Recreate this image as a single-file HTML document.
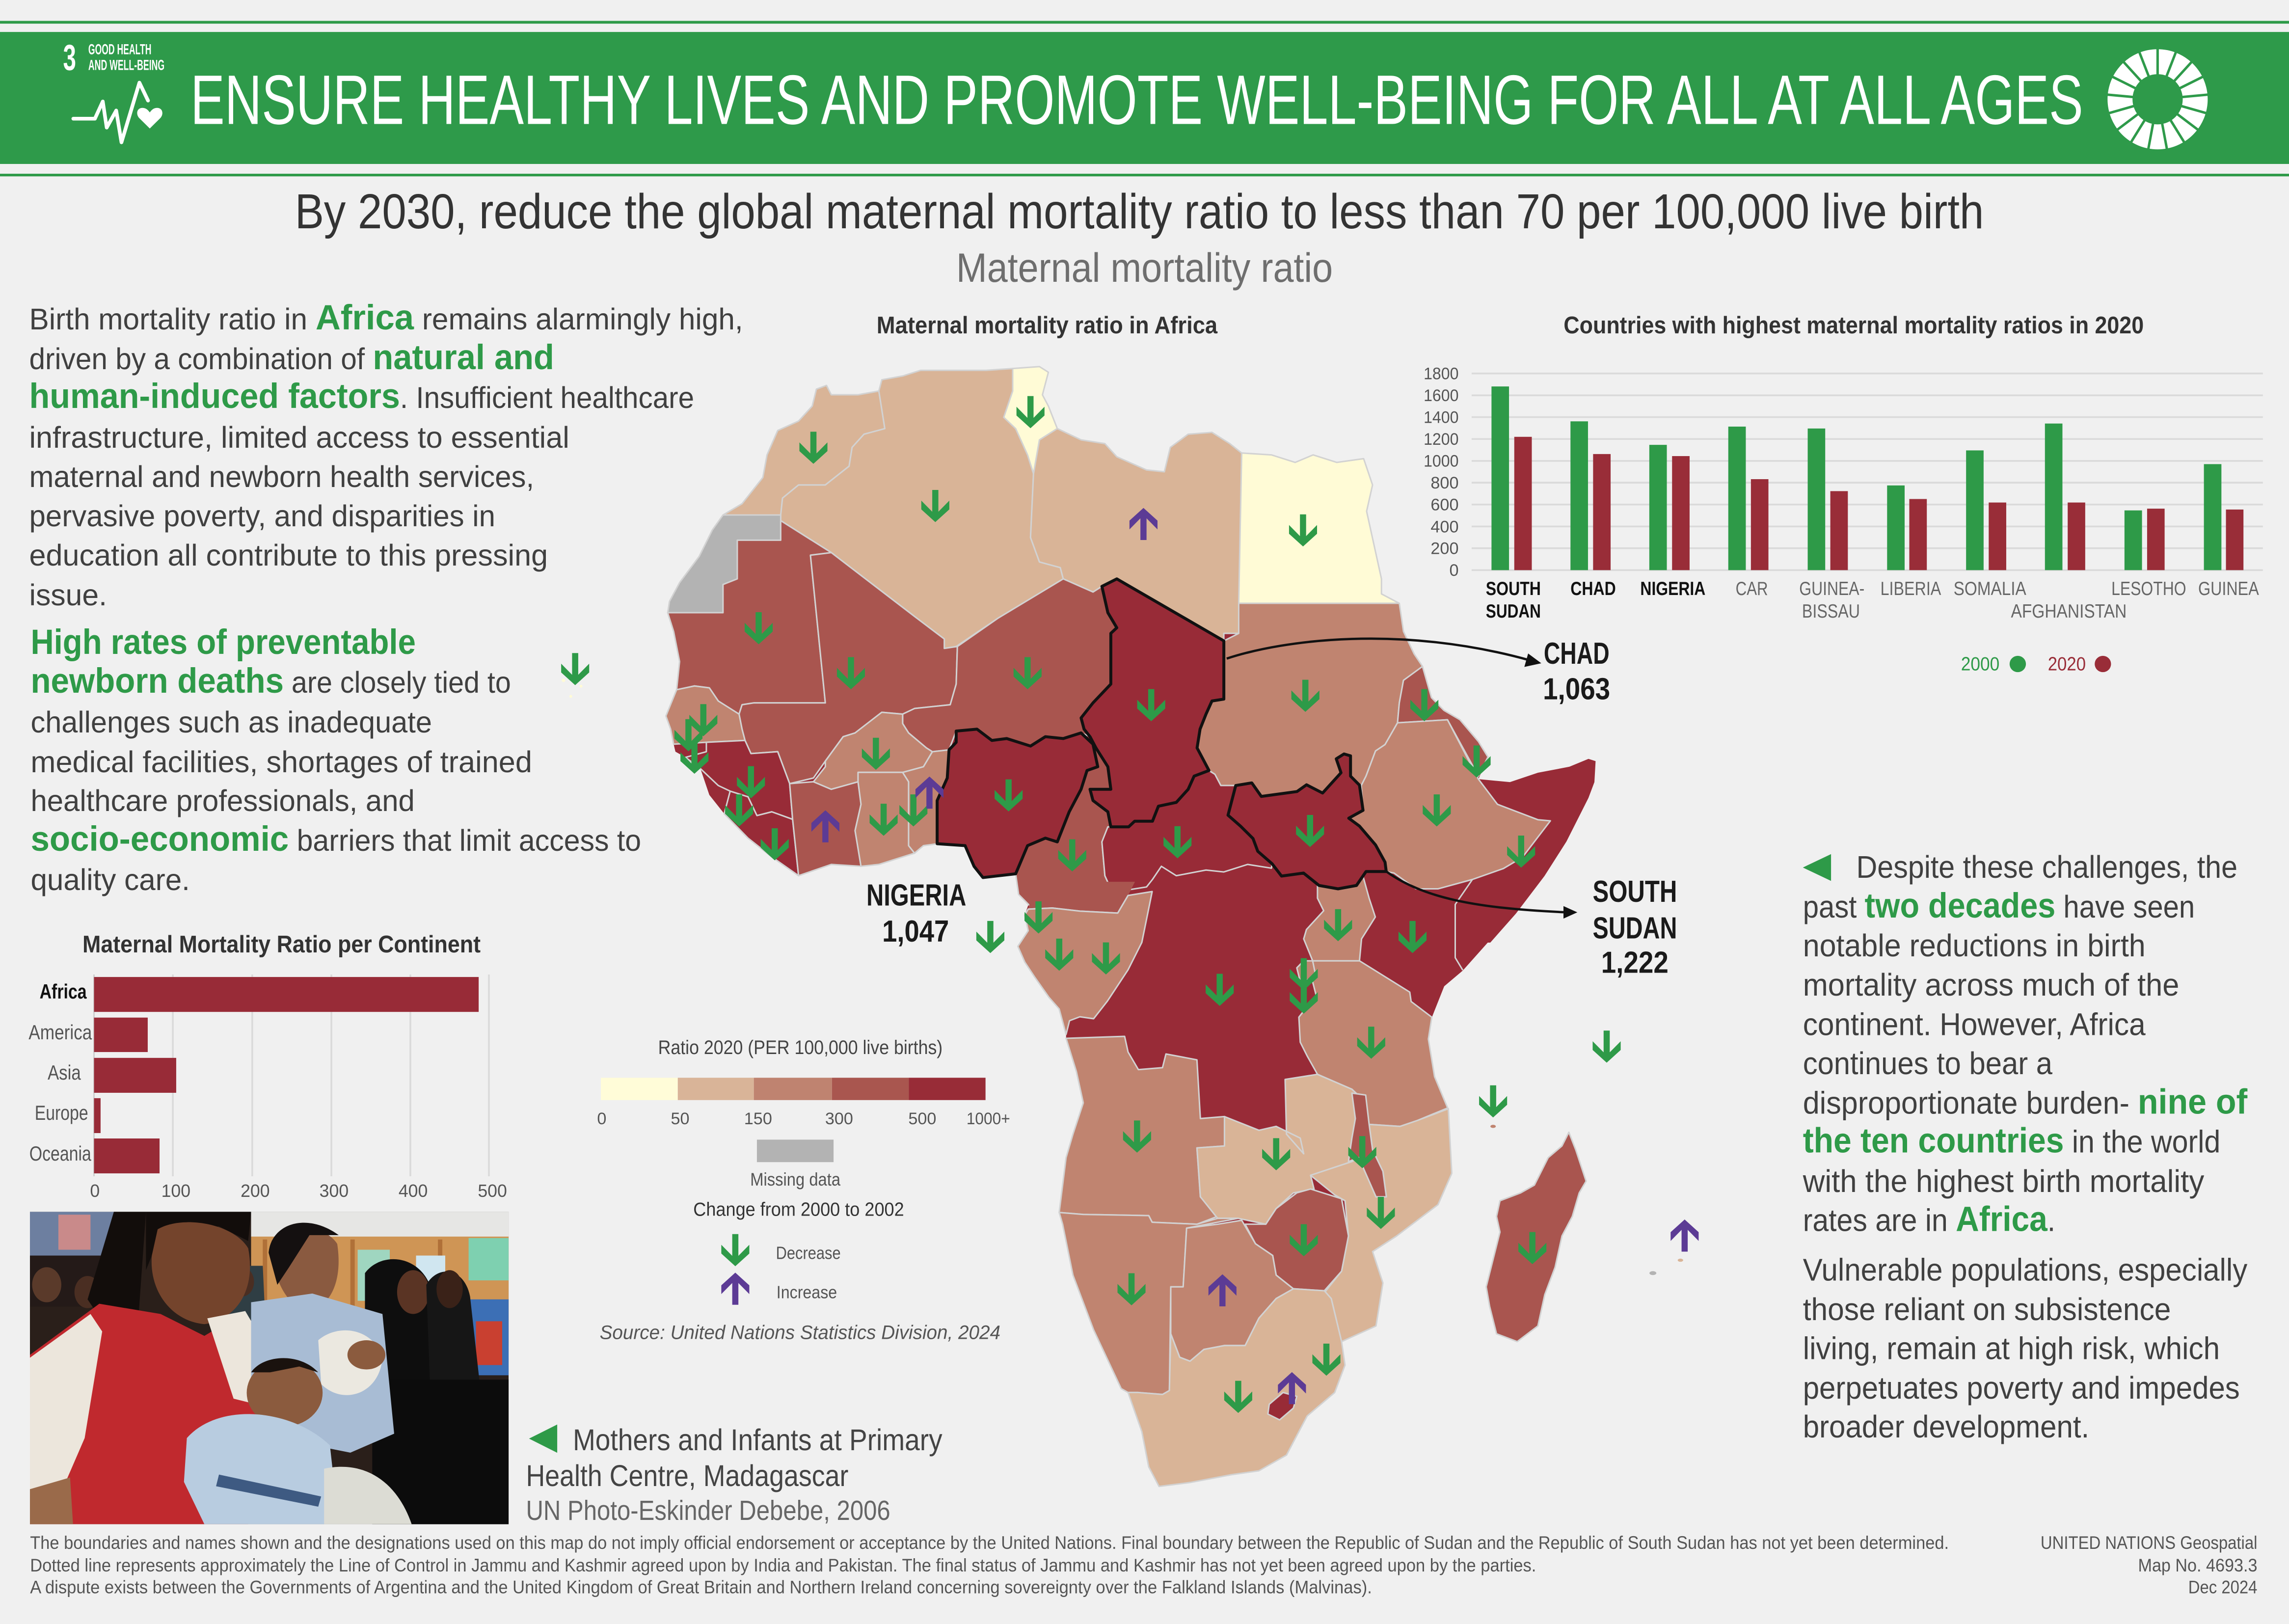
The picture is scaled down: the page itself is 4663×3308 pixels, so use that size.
<!DOCTYPE html>
<html><head><meta charset="utf-8"><title>Maternal mortality ratio</title>
<style>
html,body{margin:0;padding:0;background:#f0f0f0;}
svg{display:block;}
text{font-family:"Liberation Sans Narrow","Liberation Sans",sans-serif;}
.r{font-family:"Liberation Sans",sans-serif;}
.b{stroke:#d2d2d2;stroke-width:3;stroke-linejoin:round;}
.k{stroke:#111;stroke-width:6;stroke-linejoin:round;fill:#982b37;}
</style></head><body>
<svg width="4663" height="3308" viewBox="0 0 1568 1112.36" xmlns="http://www.w3.org/2000/svg">
<defs>
<path id="dn" d="M-2.1,-10.7 H2.1 V4.2 L9.6,-3.4 V2.6 L0,11.3 L-9.6,2.6 V-3.4 L-2.1,4.2 Z" fill="#2e9a48"/>
<path id="up" d="M-2.1,10.7 H2.1 V-4.2 L9.6,3.4 V-2.6 L0,-11.3 L-9.6,-2.6 V3.4 L-2.1,-4.2 Z" fill="#5c3b95"/>
<clipPath id="pc"><rect x="20.5" y="830" width="327.9" height="214"/></clipPath>
</defs>
<rect x="0" y="0" width="1568" height="1112.36" fill="#f0f0f0"/>

<!-- HEADER -->
<rect x="0" y="14.3" width="1568" height="1.9" fill="#2e9a48"/>
<rect x="0" y="21.9" width="1568" height="90.4" fill="#2e9a4a"/>
<rect x="0" y="119" width="1568" height="1.8" fill="#2e9a48"/>
<text x="43.2" y="48" font-size="25" font-weight="bold" fill="#fff" textLength="8.9" lengthAdjust="spacingAndGlyphs">3</text>
<text x="60.5" y="37.2" font-size="10" font-weight="bold" fill="#fff" textLength="43.2" lengthAdjust="spacingAndGlyphs">GOOD HEALTH</text>
<text x="60.5" y="48" font-size="10" font-weight="bold" fill="#fff" textLength="52.2" lengthAdjust="spacingAndGlyphs">AND WELL-BEING</text>
<polyline points="50.2,81.3 65,81.3 70.4,69.5 73.1,87.4 79.6,75.7 83.2,97.5 95.5,56.6 101.4,68.9" fill="none" stroke="#fff" stroke-width="2.5" stroke-linejoin="round" stroke-linecap="round"/>
<path d="M102.6,88 L95.5,81 C93,78.5 93.5,74 97.5,73.9 C100,73.8 101.5,75.5 102.6,77 C103.7,75.5 105.2,73.8 107.7,73.9 C111.7,74 112.2,78.5 109.7,81 Z" fill="#fff"/>
<text x="130.5" y="84.9" font-size="48" fill="#fff" textLength="1296.5" lengthAdjust="spacingAndGlyphs">ENSURE HEALTHY LIVES AND PROMOTE WELL-BEING FOR ALL AT ALL AGES</text>
<g transform="translate(1478,68)">
<circle r="34.3" fill="#fff"/>
<g stroke="#2e9a4a" stroke-width="1.7">
<line x1="0" y1="0" x2="0" y2="-36" transform="rotate(0)"/><line x1="0" y1="0" x2="0" y2="-36" transform="rotate(21.18)"/><line x1="0" y1="0" x2="0" y2="-36" transform="rotate(42.35)"/><line x1="0" y1="0" x2="0" y2="-36" transform="rotate(63.53)"/><line x1="0" y1="0" x2="0" y2="-36" transform="rotate(84.7)"/><line x1="0" y1="0" x2="0" y2="-36" transform="rotate(105.88)"/><line x1="0" y1="0" x2="0" y2="-36" transform="rotate(127.06)"/><line x1="0" y1="0" x2="0" y2="-36" transform="rotate(148.24)"/><line x1="0" y1="0" x2="0" y2="-36" transform="rotate(169.41)"/><line x1="0" y1="0" x2="0" y2="-36" transform="rotate(190.59)"/><line x1="0" y1="0" x2="0" y2="-36" transform="rotate(211.76)"/><line x1="0" y1="0" x2="0" y2="-36" transform="rotate(232.94)"/><line x1="0" y1="0" x2="0" y2="-36" transform="rotate(254.12)"/><line x1="0" y1="0" x2="0" y2="-36" transform="rotate(275.29)"/><line x1="0" y1="0" x2="0" y2="-36" transform="rotate(296.47)"/><line x1="0" y1="0" x2="0" y2="-36" transform="rotate(317.65)"/><line x1="0" y1="0" x2="0" y2="-36" transform="rotate(338.82)"/>
</g>
<circle r="17.2" fill="#2e9a4a"/>
</g>

<!-- TITLES -->
<text x="202" y="156.4" font-size="33.6" fill="#333" textLength="1157" lengthAdjust="spacingAndGlyphs">By 2030, reduce the global maternal mortality ratio to less than 70 per 100,000 live birth</text>
<text x="655" y="193" font-size="28" fill="#6e6e6e" textLength="258" lengthAdjust="spacingAndGlyphs">Maternal mortality ratio</text>
<text x="600.5" y="228.4" font-size="16.5" font-weight="bold" fill="#333" textLength="233.5" lengthAdjust="spacingAndGlyphs">Maternal mortality ratio in Africa</text>
<text x="1071.1" y="228.4" font-size="16.5" font-weight="bold" fill="#333" textLength="397.4" lengthAdjust="spacingAndGlyphs">Countries with highest maternal mortality ratios in 2020</text>

<!-- LEFT PARAGRAPHS -->
<g font-size="20.5" fill="#404040">
<text x="20" y="225.6" textLength="489" lengthAdjust="spacingAndGlyphs">Birth mortality ratio in <tspan font-weight="bold" fill="#2e9a48" font-size="24">Africa</tspan> remains alarmingly high,</text>
<text x="20" y="252.9" textLength="359.6" lengthAdjust="spacingAndGlyphs">driven by a combination of <tspan font-weight="bold" fill="#2e9a48" font-size="24">natural and</tspan></text>
<text x="20" y="279.4" textLength="455.5" lengthAdjust="spacingAndGlyphs"><tspan font-weight="bold" fill="#2e9a48" font-size="24">human-induced factors</tspan>. Insufficient healthcare</text>
<text x="20" y="306.7" textLength="370" lengthAdjust="spacingAndGlyphs">infrastructure, limited access to essential</text>
<text x="20" y="333.6" textLength="345.9" lengthAdjust="spacingAndGlyphs">maternal and newborn health services,</text>
<text x="20" y="360.5" textLength="319.3" lengthAdjust="spacingAndGlyphs">pervasive poverty, and disparities in</text>
<text x="20" y="387.4" textLength="355.3" lengthAdjust="spacingAndGlyphs">education all contribute to this pressing</text>
<text x="20" y="414.6" textLength="53.3" lengthAdjust="spacingAndGlyphs">issue.</text>
<text x="21" y="447.9" textLength="263.8" lengthAdjust="spacingAndGlyphs"><tspan font-weight="bold" fill="#2e9a48" font-size="24">High rates of preventable</tspan></text>
<text x="21" y="474.5" textLength="329" lengthAdjust="spacingAndGlyphs"><tspan font-weight="bold" fill="#2e9a48" font-size="24">newborn deaths</tspan> are closely tied to</text>
<text x="21" y="501.7" textLength="274.9" lengthAdjust="spacingAndGlyphs">challenges such as inadequate</text>
<text x="21" y="529" textLength="343.5" lengthAdjust="spacingAndGlyphs">medical facilities, shortages of trained</text>
<text x="21" y="555.5" textLength="263.1" lengthAdjust="spacingAndGlyphs">healthcare professionals, and</text>
<text x="21" y="582.7" textLength="418.2" lengthAdjust="spacingAndGlyphs"><tspan font-weight="bold" fill="#2e9a48" font-size="24">socio-economic</tspan> barriers that limit access to</text>
<text x="21" y="609.6" textLength="109.1" lengthAdjust="spacingAndGlyphs">quality care.</text>
</g>

<!-- CONTINENT CHART -->
<text class="r" x="56.5" y="652.3" font-size="16.5" font-weight="bold" fill="#333" textLength="272.7" lengthAdjust="spacingAndGlyphs">Maternal Mortality Ratio per Continent</text>
<g stroke="#dadada" stroke-width="1.2">
<line x1="118.4" y1="667.5" x2="118.4" y2="805.7"/><line x1="172.8" y1="667.5" x2="172.8" y2="805.7"/><line x1="227" y1="667.5" x2="227" y2="805.7"/><line x1="281.1" y1="667.5" x2="281.1" y2="805.7"/><line x1="334.9" y1="667.5" x2="334.9" y2="805.7"/>
</g>
<line x1="64.4" y1="667.5" x2="64.4" y2="805.7" stroke="#cfcfcf" stroke-width="1"/>
<g fill="#982b37">
<rect x="64.4" y="669.2" width="263.5" height="23.9"/>
<rect x="64.4" y="697" width="36.8" height="23.6"/>
<rect x="64.4" y="724.6" width="56.3" height="23.9"/>
<rect x="64.4" y="752.2" width="4.5" height="23.9"/>
<rect x="64.4" y="779.8" width="44.9" height="23.9"/>
</g>
<g class="r" font-size="14" fill="#555">
<text class="r" x="27.1" y="684" font-weight="bold" fill="#111" textLength="32.3" lengthAdjust="spacingAndGlyphs">Africa</text>
<text class="r" x="19.6" y="711.9" textLength="43.4" lengthAdjust="spacingAndGlyphs">America</text>
<text class="r" x="32.6" y="739.5" textLength="22.8" lengthAdjust="spacingAndGlyphs">Asia</text>
<text class="r" x="23.8" y="767" textLength="36.6" lengthAdjust="spacingAndGlyphs">Europe</text>
<text class="r" x="20.1" y="794.9" textLength="42.4" lengthAdjust="spacingAndGlyphs">Oceania</text>
</g>
<g font-size="12" fill="#555" text-anchor="middle">
<text class="r" x="65" y="819.8">0</text>
<text class="r" x="120.5" y="819.8">100</text>
<text class="r" x="174.8" y="819.8">200</text>
<text class="r" x="228.8" y="819.8">300</text>
<text class="r" x="283" y="819.8">400</text>
<text class="r" x="337.3" y="819.8">500</text>
</g>

<!-- PHOTO (approximation) -->
<g clip-path="url(#pc)">
<rect x="20.5" y="830" width="328" height="214" fill="#2a1f1a"/>
<!-- top-left background crowd -->
<rect x="20.5" y="830" width="60" height="32" fill="#6d7fa0"/>
<rect x="40" y="832" width="22" height="24" fill="#c98a8a"/>
<rect x="20.5" y="860" width="60" height="35" fill="#241a18"/>
<ellipse cx="32" cy="880" rx="10" ry="12" fill="#5a3a2a"/>
<ellipse cx="60" cy="885" rx="9" ry="11" fill="#4a2e22"/>
<!-- window / wall -->
<rect x="172" y="830" width="177" height="19" fill="#e6e6e4"/>
<rect x="172" y="847" width="177" height="75" fill="#cf9555"/>
<rect x="180" y="849" width="3" height="70" fill="#b07038"/>
<rect x="240" y="849" width="3" height="70" fill="#b07038"/>
<rect x="300" y="849" width="3" height="70" fill="#b07038"/>
<rect x="245" y="856" width="22" height="35" fill="#9fd6c0"/>
<rect x="285" y="860" width="20" height="18" fill="#d0e6f0"/>
<rect x="321" y="848" width="28" height="29" fill="#7ed0b0"/>
<rect x="321" y="890" width="28" height="52" fill="#3c6fb5"/>
<rect x="326" y="905" width="18" height="30" fill="#c94030"/>
<!-- background man -->
<path d="M153,867 L180,867 L182,910 L150,910 Z" fill="#2f3e44"/>
<ellipse cx="166" cy="878" rx="8" ry="10" fill="#4a2e22"/>
<!-- right people -->
<path d="M250,872 C262,856 290,860 296,885 L300,975 L250,975 Z" fill="#0e0e0e"/>
<ellipse cx="283" cy="885" rx="11" ry="15" fill="#5a3424"/>
<path d="M292,880 C300,866 318,868 322,888 L330,960 L295,960 Z" fill="#161616"/>
<ellipse cx="308" cy="883" rx="9" ry="13" fill="#3a2218"/>
<rect x="255" y="945" width="94" height="100" fill="#0c0c0c"/>
<!-- woman 1 hair and face -->
<path d="M78,830 L100,830 L95,900 L70,905 L60,890 Z" fill="#120d0b"/>
<path d="M100,830 L172,830 L170,850 L150,840 L110,845 L100,870 Z" fill="#120d0b"/>
<path d="M108,842 C125,832 160,838 170,855 C175,880 165,903 140,907 C118,905 102,885 104,860 Z" fill="#74442c"/>
<!-- red shirt -->
<path d="M20.5,928 L68,893 L110,900 L140,915 L160,903 L172,915 L176,965 L170,1044 L20.5,1044 Z" fill="#c0292e"/>
<path d="M20.5,930 L62,900 L70,912 L58,985 L45,1015 L20.5,1025 Z" fill="#ece6dc"/>
<path d="M20.5,1020 L48,1012 L50,1044 L20.5,1044 Z" fill="#9a6a4a"/>
<path d="M142,903 L168,898 L178,915 L176,962 L160,958 Z" fill="#ece6dc"/>
<!-- woman 2 -->
<path d="M186,850 C196,838 222,838 231,852 C235,878 226,896 210,898 C196,894 186,875 186,850 Z" fill="#8a5a40"/>
<path d="M184,858 C186,838 210,830 232,846 L212,846 L198,868 L190,880 Z" fill="#141010"/>
<path d="M172,892 L214,886 L262,900 L270,982 L240,995 L190,985 L172,950 Z" fill="#a8bcd4"/>
<!-- baby 2 -->
<path d="M218,918 C232,906 256,910 262,930 C260,955 235,963 220,948 Z" fill="#ebe8e0"/>
<ellipse cx="251" cy="928" rx="13" ry="10" fill="#8b5b3e"/>
<!-- baby 1 -->
<ellipse cx="195" cy="954" rx="26" ry="23" fill="#8b5b3e"/>
<path d="M172,940 C180,928 205,926 218,940 L205,936 L185,940 Z" fill="#1a120e"/>
<path d="M128,985 C150,960 200,965 226,990 L232,1044 L140,1044 L126,1015 Z" fill="#b8cce0"/>
<path d="M150,1010 L220,1025 L218,1032 L148,1018 Z" fill="#3e5a82"/>
<!-- chair -->
<path d="M222,1006 C250,1000 272,1015 282,1044 L222,1044 Z" fill="#dcdcd4"/>
</g>

<!-- CAPTION -->
<polygon points="381.7,975.7 381.7,995.1 362.4,985.4" fill="#2e9a48"/>
<text x="392.4" y="993.3" font-size="20.5" fill="#444" textLength="253.1" lengthAdjust="spacingAndGlyphs">Mothers and Infants at Primary</text>
<text x="360.3" y="1017.8" font-size="20.5" fill="#444" textLength="220.9" lengthAdjust="spacingAndGlyphs">Health Centre, Madagascar</text>
<text x="360.3" y="1041.1" font-size="19" fill="#666" textLength="249.6" lengthAdjust="spacingAndGlyphs">UN Photo-Eskinder Debebe, 2006</text>

<!-- MAP BASES -->
<g transform="translate(447.2,242.1) scale(0.40745,0.25734)">
<polygon fill="#982b37" points="25,690 28,660 45,610 78,540 100,470 118,430 150,400 185,330 192,270 210,205 245,180 268,140 275,95 292,85 300,110 345,110 380,100 385,70 420,60 450,45 560,45 605,40 650,35 665,50 655,110 665,140 680,200 720,230 760,240 780,275 830,310 860,315 870,250 900,215 940,210 970,240 990,265 1040,270 1080,290 1110,270 1150,290 1195,280 1210,350 1200,420 1225,600 1225,640 1255,665 1262,740 1280,800 1294,833 1309,916 1330,950 1357,975 1388,1033 1404,1074 1388,1133 1441,1141 1488,1116 1541,1100 1573,1079 1585,1085 1583,1141 1573,1183 1536,1299 1499,1391 1451,1491 1408,1568 630,1568 640,1480 615,1440 610,1385 555,1395 540,1365 525,1310 478,1305 455,1310 440,1330 380,1360 350,1365 300,1360 245,1390 200,1340 160,1290 120,1225 95,1175 80,1105 55,1075 38,1060 35,1040 30,1000 22,965 40,895 45,820 35,740"/>
</g>
<g transform="translate(447.2,605.3) scale(0.4718,0.26807)">
<polygon fill="#982b37" points="545,-20 1190,-20 1282,0 1240,90 1217,141 1176,222 1149,262 1131,342 1126,397 1135,493 1154,573 1160,740 1140,820 1080,900 1045,940 1060,1020 1050,1130 1000,1170 1005,1230 990,1300 950,1360 920,1460 880,1500 840,1510 780,1530 735,1540 720,1490 710,1400 690,1300 680,1290 640,1140 610,1000 595,870 590,840 600,700 610,640 625,560 615,480 600,395 600,355 590,320 575,290 555,240 540,200 530,160 545,120 540,80 550,30"/>
</g>

<!-- NORTH COUNTRIES -->
<g transform="translate(447.2,242.1) scale(0.40745,0.25734)">
<polygon vector-effect="non-scaling-stroke" class="b" fill="#d9b497" points="118,430 150,400 185,330 192,270 210,205 245,180 268,140 275,95 292,85 300,110 345,110 380,100 390,200 355,215 335,250 330,300 290,350 245,350 218,385 215,430"/>
<polygon vector-effect="non-scaling-stroke" class="b" fill="#d9b497" points="380,100 385,70 420,60 450,45 560,45 605,40 605,100 590,170 610,200 630,270 640,320 635,490 650,555 685,570 690,600 580,705 510,780 490,785 490,760 440,700 300,530 215,445 215,430 218,385 245,350 290,350 330,300 335,250 355,215 390,200"/>
<polygon vector-effect="non-scaling-stroke" class="b" fill="#fffbd6" points="605,40 650,35 665,50 655,110 665,140 680,200 650,230 640,320 630,270 610,200 590,170 605,100"/>
<polygon vector-effect="non-scaling-stroke" class="b" fill="#d9b497" points="680,200 720,230 760,240 780,275 830,310 860,315 870,250 900,215 940,210 970,240 990,265 985,745 960,745 960,765 780,600 740,635 690,600 685,570 650,555 635,490 640,320 650,230"/>
<polygon vector-effect="non-scaling-stroke" class="b" fill="#fffbd6" points="990,265 1040,270 1080,290 1110,270 1150,290 1195,280 1210,350 1200,420 1225,600 1225,640 1255,665 985,665"/>
<polygon vector-effect="non-scaling-stroke" class="b" fill="#b3b3b3" points="25,690 118,690 118,615 142,600 142,497 215,497 215,430 118,430 100,470 78,540 45,610 28,660"/>
<polygon vector-effect="non-scaling-stroke" class="b" fill="#a9554f" points="25,690 118,690 118,615 142,600 142,497 215,497 215,445 300,530 265,537 290,930 170,930 150,935 145,960 110,925 95,890 70,885 40,895 45,820 35,740"/>
<polygon vector-effect="non-scaling-stroke" class="b" fill="#a9554f" points="265,537 300,530 440,700 490,760 490,785 512,780 510,880 500,935 440,945 420,960 385,955 340,1010 320,1020 290,1085 270,1130 230,1145 210,1060 165,1065 155,1030 150,1000 145,960 150,935 170,930 290,930"/>
<polygon vector-effect="non-scaling-stroke" class="b" fill="#a9554f" points="512,780 580,705 690,600 740,635 755,620 765,690 780,730 770,745 770,880 740,930 720,970 725,1000 735,1020 720,1010 690,1025 660,1020 635,1045 595,1025 570,1030 545,1000 510,1005 498,1055 470,1060 460,1050 430,1010 420,985 420,960 440,945 500,935 510,880"/>
<polygon vector-effect="non-scaling-stroke" class="b" fill="#c08470" points="40,895 70,885 95,890 110,925 145,960 150,1000 155,1030 90,1035 35,1040 30,1000 22,965"/>
<polygon vector-effect="non-scaling-stroke" class="b" fill="#982b37" points="90,1035 155,1030 165,1065 210,1060 230,1145 235,1240 200,1220 175,1230 160,1180 130,1165 110,1150 80,1105 55,1075 90,1060"/>
<polygon vector-effect="non-scaling-stroke" class="b" fill="#982b37" points="120,1225 130,1165 160,1180 175,1230 200,1220 235,1240 245,1390 200,1340 160,1290"/>
<polygon vector-effect="non-scaling-stroke" class="b" fill="#a9554f" points="230,1145 270,1140 300,1160 345,1140 350,1200 340,1270 350,1365 300,1360 245,1390 235,1240"/>
<polygon vector-effect="non-scaling-stroke" class="b" fill="#c08470" points="290,1085 320,1020 340,1010 385,955 420,960 420,985 430,1010 460,1050 470,1060 455,1100 420,1115 345,1115 345,1140 300,1160 270,1140 290,1100"/>
<polygon vector-effect="non-scaling-stroke" class="b" fill="#c08470" points="345,1115 420,1115 430,1140 430,1310 440,1330 380,1360 350,1365 340,1270 350,1200 345,1140"/>
<polygon vector-effect="non-scaling-stroke" class="b" fill="#c08470" points="420,1115 455,1100 470,1060 498,1055 495,1130 478,1190 478,1305 455,1310 440,1330 430,1310 430,1140"/>
<polygon vector-effect="non-scaling-stroke" class="b" fill="#a9554f" points="610,1385 630,1310 660,1290 680,1300 700,1220 720,1160 730,1110 748,1100 740,1040 735,1020 745,1050 765,1100 770,1160 735,1160 740,1190 765,1220 770,1260 755,1300 760,1390 780,1460 740,1480 690,1470 640,1480 615,1440"/>
<polygon vector-effect="non-scaling-stroke" class="b" fill="#c08470" points="640,1480 690,1470 740,1480 780,1460 790,1568 630,1568"/>
<polygon vector-effect="non-scaling-stroke" class="b" fill="#982b37" points="765,1260 800,1260 810,1245 840,1245 850,1205 880,1195 900,1160 910,1125 935,1110 945,1120 955,1150 980,1150 967,1229 988,1258 1009,1291 1017,1325 1041,1358 1040,1370 1000,1360 960,1380 930,1375 880,1390 855,1365 840,1400 830,1420 790,1430 780,1460 760,1390 755,1300"/>
<polygon vector-effect="non-scaling-stroke" class="b" fill="#c08470" points="985,665 1255,665 1262,740 1280,800 1294,833 1262,870 1255,930 1252,983 1231,1041 1215,1058 1199,1125 1191,1150 1188,1149 1173,1125 1173,1071 1162,1066 1149,1079 1157,1116 1126,1170 1099,1148 1083,1166 1023,1179 1007,1143 980,1150 955,1150 945,1120 935,1110 915,1050 920,1000 930,960 940,925 960,920 960,765 985,745"/>
<polygon vector-effect="non-scaling-stroke" class="b" fill="#a9554f" points="1262,870 1294,833 1309,916 1330,950 1357,975 1388,1033 1404,1074 1388,1125 1336,975 1252,983 1255,930"/>
<polygon vector-effect="non-scaling-stroke" class="b" fill="#c08470" points="1252,983 1336,975 1388,1133 1420,1200 1488,1241 1509,1244 1462,1341 1430,1371 1378,1400 1320,1425 1283,1425 1246,1383 1233,1379 1215,1308 1188,1258 1167,1241 1194,1216 1191,1150 1199,1125 1215,1058 1231,1041"/>
</g>

<!-- SOUTH COUNTRIES -->
<g transform="translate(447.2,605.3) scale(0.4718,0.26807)">
<polygon fill="#a9554f" points="550,-5 700,-5 690,30 675,75 620,70 580,62 545,65 550,30"/>
<polyline vector-effect="non-scaling-stroke" class="b" fill="none" points="690,30 675,75 620,70 580,62 545,65"/>
<polygon vector-effect="non-scaling-stroke" class="b" fill="#c08470" points="545,65 580,62 620,70 675,75 690,30 725,20 710,150 690,220 660,300 640,345 620,340 605,350 600,385 590,320 575,290 555,240 540,200 530,160 545,120 540,80"/>
<polygon vector-effect="non-scaling-stroke" class="b" fill="#c08470" points="600,395 685,390 690,430 705,475 740,470 745,435 790,450 795,600 830,595 830,670 790,675 795,800 820,850 790,870 725,865 720,848 625,845 590,840 600,700 610,640 625,560 615,480"/>
<polygon vector-effect="non-scaling-stroke" class="b" fill="#d9b497" points="790,675 830,670 830,595 880,630 905,620 940,650 945,690 920,640 918,500 965,487 1015,525 1030,550 1020,600 1015,710 955,745 960,780 930,790 905,830 890,870 850,855 820,855 795,800"/>
<polygon vector-effect="non-scaling-stroke" class="b" fill="#c08470" points="958,197 1026,197 1099,277 1101,301 1131,341 1126,397 1135,493 1154,573 1110,605 1085,620 1040,615 1030,550 1015,525 965,487 950,440 940,405 938,341 963,285 955,230"/>
<polygon vector-effect="non-scaling-stroke" class="b" fill="#c08470" points="965,-20 1031,-20 1040,37 1049,85 1029,141 1026,197 958,197 945,141 949,117 974,69 965,37"/>
<polygon vector-effect="non-scaling-stroke" class="b" fill="#c08470" points="945,197 958,197 963,240 940,250 935,215"/>
<polygon vector-effect="non-scaling-stroke" class="b" fill="#d9b497" points="1040,615 1085,620 1110,605 1155,575 1160,740 1140,820 1080,900 1045,940 1060,1020 1050,1130 1000,1170 985,1060 975,1045 1000,990 1010,900 1005,810 990,795 955,745 1015,710 1025,700 1035,740 1050,800 1065,800 1060,735 1045,680"/>
<polygon vector-effect="non-scaling-stroke" class="b" fill="#a9554f" points="1015,535 1035,540 1040,615 1045,680 1060,735 1065,800 1050,800 1035,740 1025,700 1010,710 1015,650 1020,600"/>
<polygon vector-effect="non-scaling-stroke" class="b" fill="#a9554f" points="860,870 890,870 905,830 935,790 955,780 1000,805 1010,900 1000,990 975,1040 930,1035 905,1000 900,950 875,920"/>
<polygon vector-effect="non-scaling-stroke" class="b" fill="#c08470" points="590,840 625,845 720,848 725,865 790,870 820,855 850,855 775,880 770,1030 752,1030 750,1295 740,1305 705,1300 690,1300 680,1290 640,1140 610,1000 595,870"/>
<polygon vector-effect="non-scaling-stroke" class="b" fill="#c08470" points="775,880 820,870 855,860 875,920 900,950 905,1000 930,1035 905,1060 880,1110 860,1180 830,1180 800,1190 780,1220 765,1210 752,1150 752,1030 770,1030"/>
<polygon vector-effect="non-scaling-stroke" class="b" fill="#d9b497" points="740,1305 750,1295 752,1150 765,1210 780,1220 800,1190 830,1180 860,1180 880,1110 905,1060 930,1035 975,1040 985,1060 1000,1170 1005,1230 990,1300 950,1360 920,1460 880,1500 840,1510 780,1530 735,1540 720,1490 710,1400 690,1300 705,1300"/>
<polygon vector-effect="non-scaling-stroke" class="b" fill="#982b37" points="895,1330 915,1300 935,1310 930,1340 910,1370 893,1355"/>
<polygon vector-effect="non-scaling-stroke" class="b" fill="#a9554f" points="1330,635 1340,680 1355,760 1345,790 1335,850 1320,900 1310,980 1295,1050 1285,1130 1255,1170 1225,1150 1215,1080 1210,1030 1220,960 1230,890 1225,850 1230,810 1260,790 1280,770 1300,700 1320,670"/>
<polyline vector-effect="non-scaling-stroke" class="b" fill="none" points="1190,-11 1165,53 1165,189 1176,221"/>
<circle cx="1220" cy="620" r="4" fill="#c08470"/>
<circle cx="1452" cy="995" r="5" fill="#b3b3b3"/>
<circle cx="1492" cy="962" r="4" fill="#d9b497"/>
</g>

<!-- THICK OUTLINES -->
<g transform="translate(447.2,242.1) scale(0.40745,0.25734)">
<polygon vector-effect="non-scaling-stroke" class="k" points="780,600 960,765 960,920 940,925 930,960 920,1000 915,1050 935,1110 910,1125 900,1160 880,1195 850,1205 840,1245 810,1245 800,1260 770,1260 765,1220 740,1190 735,1160 770,1160 765,1100 745,1050 735,1020 725,1000 720,970 740,930 770,880 770,745 780,730 765,690 755,620"/>
<polygon vector-effect="non-scaling-stroke" class="k" points="510,1005 545,1000 570,1030 595,1025 635,1045 660,1020 690,1025 720,1010 740,1040 748,1100 730,1110 720,1160 700,1220 680,1300 660,1290 630,1310 610,1385 555,1395 540,1365 525,1310 478,1305 478,1190 495,1130 498,1055 510,1035"/>
<polygon vector-effect="non-scaling-stroke" class="k" points="967,1229 980,1150 1007,1143 1023,1179 1083,1166 1099,1148 1126,1170 1157,1116 1149,1079 1162,1066 1173,1071 1173,1125 1188,1149 1194,1216 1170,1237 1188,1258 1215,1308 1231,1354 1233,1379 1199,1379 1183,1416 1152,1425 1120,1416 1094,1383 1057,1391 1041,1358 1017,1325 1009,1291 988,1258"/>
</g>

<!-- small islands -->
<g fill="#fffbd6"><circle cx="386" cy="466" r="1.2"/><circle cx="398" cy="470" r="1"/><circle cx="391" cy="477" r="1"/></g>

<!-- ARROWS -->
<g>
<use href="#dn" x="557.2" y="306.4"/><use href="#dn" x="640.7" y="346.3"/><use href="#dn" x="705.9" y="282"/><use href="#dn" x="892.6" y="363"/>
<use href="#dn" x="519.7" y="430"/><use href="#dn" x="582.9" y="460.8"/><use href="#dn" x="703.9" y="460.8"/><use href="#dn" x="788.6" y="482.7"/>
<use href="#dn" x="894.2" y="476.3"/><use href="#dn" x="975.7" y="482.7"/><use href="#dn" x="1011.5" y="521.3"/><use href="#dn" x="984.2" y="554.8"/>
<use href="#dn" x="1042" y="583"/><use href="#dn" x="600" y="516"/><use href="#dn" x="481.8" y="493"/><use href="#dn" x="471.6" y="503.3"/>
<use href="#dn" x="475.7" y="518.7"/><use href="#dn" x="514.4" y="535.5"/><use href="#dn" x="506.3" y="554.8"/><use href="#dn" x="530.7" y="578"/>
<use href="#dn" x="605.3" y="561.2"/><use href="#dn" x="625.7" y="554.8"/><use href="#dn" x="690.9" y="544.5"/><use href="#dn" x="734.5" y="585.6"/>
<use href="#dn" x="806.6" y="576.6"/><use href="#dn" x="897.4" y="568.9"/>
<use href="#dn" x="678.4" y="641.5"/><use href="#dn" x="711.4" y="628.1"/><use href="#dn" x="725.6" y="653.6"/><use href="#dn" x="757.6" y="656.2"/>
<use href="#dn" x="916.6" y="633.4"/><use href="#dn" x="967.6" y="641.5"/><use href="#dn" x="835.5" y="677.7"/><use href="#dn" x="893.1" y="667"/>
<use href="#dn" x="893.1" y="683"/><use href="#dn" x="939.3" y="713.9"/><use href="#dn" x="1100.6" y="716.6"/><use href="#dn" x="1022.8" y="754.1"/>
<use href="#dn" x="778.9" y="778.2"/><use href="#dn" x="874.2" y="790.3"/><use href="#dn" x="933.2" y="788.9"/><use href="#dn" x="945.9" y="830.5"/>
<use href="#dn" x="893.1" y="849.2"/><use href="#dn" x="1049.7" y="854.6"/><use href="#dn" x="775.1" y="882.8"/><use href="#dn" x="908.6" y="931"/>
<use href="#dn" x="848.2" y="956.5"/><use href="#dn" x="394" y="458"/>
<use href="#up" x="783.3" y="359.2"/><use href="#up" x="565.4" y="566.3"/><use href="#up" x="636.7" y="543.2"/><use href="#up" x="837.4" y="884.1"/>
<use href="#up" x="885" y="951.1"/><use href="#up" x="1154" y="846.6"/>
</g>

<!-- CALLOUT ARROWS & LABELS -->
<path d="M840.3,451.1 C880,438 960,428 1047,452" fill="none" stroke="#111" stroke-width="1.6"/>
<polygon points="1055.8,454.3 1044.2,456.8 1046.8,447.6" fill="#111"/>
<path d="M949.6,596.9 C975,615 1010,622 1071,624.8" fill="none" stroke="#111" stroke-width="1.6"/>
<polygon points="1080.5,624.9 1071,620.6 1071,629.2" fill="#111"/>
<g font-weight="bold" fill="#1a1a1a" font-size="21">
<text x="593.5" y="620.2" textLength="68.4" lengthAdjust="spacingAndGlyphs">NIGERIA</text>
<text x="604.3" y="645" textLength="45.8" lengthAdjust="spacingAndGlyphs">1,047</text>
<text x="1057.5" y="454.7" textLength="45" lengthAdjust="spacingAndGlyphs">CHAD</text>
<text x="1056.9" y="479" textLength="46.1" lengthAdjust="spacingAndGlyphs">1,063</text>
<text x="1091" y="617.8" textLength="57.8" lengthAdjust="spacingAndGlyphs">SOUTH</text>
<text x="1091" y="642.8" textLength="57.8" lengthAdjust="spacingAndGlyphs">SUDAN</text>
<text x="1096.8" y="666.3" textLength="46.1" lengthAdjust="spacingAndGlyphs">1,222</text>
</g>

<!-- MAP LEGEND -->
<text x="450.8" y="721.9" font-size="13.5" fill="#444" textLength="194.9" lengthAdjust="spacingAndGlyphs">Ratio 2020 (PER 100,000 live births)</text>
<rect x="411.6" y="738.2" width="52.7" height="15.3" fill="#fffcd8"/>
<rect x="464.3" y="738.2" width="52.1" height="15.3" fill="#d9b498"/>
<rect x="516.4" y="738.2" width="53.5" height="15.3" fill="#bf8370"/>
<rect x="569.9" y="738.2" width="52.7" height="15.3" fill="#a9564f"/>
<rect x="622.6" y="738.2" width="52.5" height="15.3" fill="#982c37"/>
<g font-size="11.5" fill="#555" text-anchor="middle">
<text x="412.2" y="770">0</text>
<text x="465.9" y="770">50</text>
<text x="519.3" y="770">150</text>
<text x="574.8" y="770">300</text>
<text x="631.8" y="770">500</text>
<text x="677" y="770" textLength="29.9" lengthAdjust="spacingAndGlyphs">1000+</text>
</g>
<rect x="518.5" y="780.6" width="52.5" height="15.4" fill="#b3b3b3"/>
<text x="513.9" y="812" font-size="12.5" fill="#555" textLength="61.8" lengthAdjust="spacingAndGlyphs">Missing data</text>
<text x="474.9" y="832.7" font-size="13" fill="#333" textLength="144.4" lengthAdjust="spacingAndGlyphs">Change from 2000 to 2002</text>
<use href="#dn" x="503.7" y="856"/>
<use href="#up" x="503.7" y="883"/>
<text x="531.5" y="862.3" font-size="12" fill="#555" textLength="44.4" lengthAdjust="spacingAndGlyphs">Decrease</text>
<text x="531.9" y="889.3" font-size="12" fill="#555" textLength="41.5" lengthAdjust="spacingAndGlyphs">Increase</text>
<text x="410.8" y="917.1" font-size="13.5" font-style="italic" fill="#555" textLength="274.5" lengthAdjust="spacingAndGlyphs">Source: United Nations Statistics Division, 2024</text>

<!-- RIGHT BAR CHART -->
<g stroke="#dadada" stroke-width="1.2">
<line x1="1008.1" y1="390.5" x2="1550.1" y2="390.5"/><line x1="1008.1" y1="375.5" x2="1550.1" y2="375.5"/><line x1="1008.1" y1="360.6" x2="1550.1" y2="360.6"/><line x1="1008.1" y1="345.6" x2="1550.1" y2="345.6"/><line x1="1008.1" y1="330.6" x2="1550.1" y2="330.6"/><line x1="1008.1" y1="315.7" x2="1550.1" y2="315.7"/><line x1="1008.1" y1="300.7" x2="1550.1" y2="300.7"/><line x1="1008.1" y1="285.7" x2="1550.1" y2="285.7"/><line x1="1008.1" y1="270.8" x2="1550.1" y2="270.8"/><line x1="1008.1" y1="255.8" x2="1550.1" y2="255.8"/>
</g>
<g font-size="11.5" fill="#555" text-anchor="end">
<text x="999.2" y="394.5">0</text><text x="999.2" y="379.5">200</text><text x="999.2" y="364.6">400</text><text x="999.2" y="349.6">600</text><text x="999.2" y="334.6">800</text>
<text x="999.2" y="319.7" textLength="24" lengthAdjust="spacingAndGlyphs">1000</text><text x="999.2" y="304.7" textLength="24" lengthAdjust="spacingAndGlyphs">1200</text><text x="999.2" y="289.7" textLength="24" lengthAdjust="spacingAndGlyphs">1400</text><text x="999.2" y="274.8" textLength="24" lengthAdjust="spacingAndGlyphs">1600</text><text x="999.2" y="259.8" textLength="24" lengthAdjust="spacingAndGlyphs">1800</text>
</g>
<g fill="#2e9a48">
<rect x="1021.7" y="264.7" width="12" height="125.8"/><rect x="1075.8" y="288.6" width="12" height="101.9"/><rect x="1129.8" y="304.7" width="12" height="85.8"/><rect x="1183.9" y="292.2" width="12" height="98.3"/><rect x="1238.3" y="293.5" width="12" height="97"/>
<rect x="1292.7" y="332.5" width="12" height="58"/><rect x="1346.8" y="308.5" width="12" height="82"/><rect x="1400.8" y="290.1" width="12" height="100.4"/><rect x="1455.3" y="349.6" width="12" height="40.9"/><rect x="1509.7" y="317.9" width="12" height="72.6"/>
</g>
<g fill="#992d38">
<rect x="1037.3" y="299.2" width="12" height="91.3"/><rect x="1091.3" y="311" width="12" height="79.5"/><rect x="1145.4" y="312.4" width="12" height="78.1"/><rect x="1199.4" y="328.2" width="12" height="62.3"/><rect x="1253.8" y="336.4" width="12" height="54.1"/>
<rect x="1307.9" y="341.8" width="12" height="48.7"/><rect x="1362.3" y="344.2" width="12" height="46.3"/><rect x="1416.4" y="344.2" width="12" height="46.3"/><rect x="1470.8" y="348.4" width="12" height="42.1"/><rect x="1524.8" y="349" width="12" height="41.5"/>
</g>
<g font-size="13" font-weight="bold" fill="#111">
<text x="1017.8" y="407.6" textLength="37.7" lengthAdjust="spacingAndGlyphs">SOUTH</text>
<text x="1017.8" y="423.1" textLength="37.7" lengthAdjust="spacingAndGlyphs">SUDAN</text>
<text x="1075.8" y="407.6" textLength="31.1" lengthAdjust="spacingAndGlyphs">CHAD</text>
<text x="1123.6" y="407.6" textLength="44.7" lengthAdjust="spacingAndGlyphs">NIGERIA</text>
</g>
<g font-size="13" fill="#666">
<text x="1188.9" y="407.6" textLength="22.2" lengthAdjust="spacingAndGlyphs">CAR</text>
<text x="1232.5" y="407.6" textLength="44.7" lengthAdjust="spacingAndGlyphs">GUINEA-</text>
<text x="1234.4" y="423.1" textLength="39.7" lengthAdjust="spacingAndGlyphs">BISSAU</text>
<text x="1288.1" y="407.6" textLength="41.6" lengthAdjust="spacingAndGlyphs">LIBERIA</text>
<text x="1338.2" y="407.6" textLength="49.8" lengthAdjust="spacingAndGlyphs">SOMALIA</text>
<text x="1377.5" y="423.1" textLength="79.3" lengthAdjust="spacingAndGlyphs">AFGHANISTAN</text>
<text x="1446.3" y="407.6" textLength="51.3" lengthAdjust="spacingAndGlyphs">LESOTHO</text>
<text x="1505.8" y="407.6" textLength="41.6" lengthAdjust="spacingAndGlyphs">GUINEA</text>
</g>
<text x="1343.3" y="459.1" font-size="13" fill="#2e9a48" textLength="26.4" lengthAdjust="spacingAndGlyphs">2000</text>
<circle cx="1382.2" cy="454.8" r="5.6" fill="#2e9a48"/>
<text x="1402.8" y="459.1" font-size="13" fill="#992d38" textLength="26" lengthAdjust="spacingAndGlyphs">2020</text>
<circle cx="1440.5" cy="454.8" r="5.6" fill="#992d38"/>

<!-- RIGHT PARAGRAPHS -->
<polygon points="1254.3,585 1254.3,603.4 1235,594.2" fill="#2e9a48"/>
<g font-size="21.5" fill="#404040">
<text class="r" x="1271.6" y="601.2" textLength="261.1" lengthAdjust="spacingAndGlyphs">Despite these challenges, the</text>
<text class="r" x="1235" y="628.5" textLength="268.5" lengthAdjust="spacingAndGlyphs">past <tspan font-weight="bold" fill="#2e9a48" font-size="24">two decades</tspan> have seen</text>
<text class="r" x="1235" y="655" textLength="234.7" lengthAdjust="spacingAndGlyphs">notable reductions in birth</text>
<text class="r" x="1235" y="682" textLength="257.8" lengthAdjust="spacingAndGlyphs">mortality across much of the</text>
<text class="r" x="1235" y="709" textLength="234.7" lengthAdjust="spacingAndGlyphs">continent. However, Africa</text>
<text class="r" x="1235" y="735.8" textLength="170.9" lengthAdjust="spacingAndGlyphs">continues to bear a</text>
<text class="r" x="1235" y="762.8" textLength="304.5" lengthAdjust="spacingAndGlyphs">disproportionate burden-  <tspan font-weight="bold" fill="#2e9a48" font-size="24">nine of</tspan></text>
<text class="r" x="1235" y="789.3" textLength="286" lengthAdjust="spacingAndGlyphs"><tspan font-weight="bold" fill="#2e9a48" font-size="24">the ten countries</tspan> in the world</text>
<text class="r" x="1235" y="816.4" textLength="274.9" lengthAdjust="spacingAndGlyphs">with the highest birth mortality</text>
<text class="r" x="1235" y="843.1" textLength="173" lengthAdjust="spacingAndGlyphs">rates are in <tspan font-weight="bold" fill="#2e9a48" font-size="24">Africa</tspan>.</text>
<text class="r" x="1235" y="877.1" textLength="304.5" lengthAdjust="spacingAndGlyphs">Vulnerable populations, especially</text>
<text class="r" x="1235" y="904.2" textLength="252.1" lengthAdjust="spacingAndGlyphs">those reliant on subsistence</text>
<text class="r" x="1235" y="931" textLength="285.6" lengthAdjust="spacingAndGlyphs">living, remain at high risk, which</text>
<text class="r" x="1235" y="958" textLength="299.3" lengthAdjust="spacingAndGlyphs">perpetuates poverty and impedes</text>
<text class="r" x="1235" y="984.5" textLength="196.2" lengthAdjust="spacingAndGlyphs">broader development.</text>
</g>

<!-- FOOTER -->
<g font-size="12.5" fill="#555">
<text x="20.6" y="1060.9" textLength="1314.4" lengthAdjust="spacingAndGlyphs">The boundaries and names shown and the designations used on this map do not imply official endorsement or acceptance by the United Nations. Final boundary between the Republic of Sudan and the Republic of South Sudan has not yet been determined.</text>
<text x="20.6" y="1076.3" textLength="1031.7" lengthAdjust="spacingAndGlyphs">Dotted line represents approximately the Line of Control in Jammu and Kashmir agreed upon by India and Pakistan. The final status of Jammu and Kashmir has not yet been agreed upon by the parties.</text>
<text x="20.6" y="1091.4" textLength="919.2" lengthAdjust="spacingAndGlyphs">A dispute exists between the Governments of Argentina and the United Kingdom of Great Britain and Northern Ireland concerning sovereignty over the Falkland Islands (Malvinas).</text>
<text x="1397.8" y="1060.9" textLength="148.5" lengthAdjust="spacingAndGlyphs">UNITED NATIONS Geospatial</text>
<text x="1464.6" y="1076.3" textLength="81.7" lengthAdjust="spacingAndGlyphs">Map No. 4693.3</text>
<text x="1499" y="1091.4" textLength="47.3" lengthAdjust="spacingAndGlyphs">Dec 2024</text>
</g>
</svg>
</body></html>
